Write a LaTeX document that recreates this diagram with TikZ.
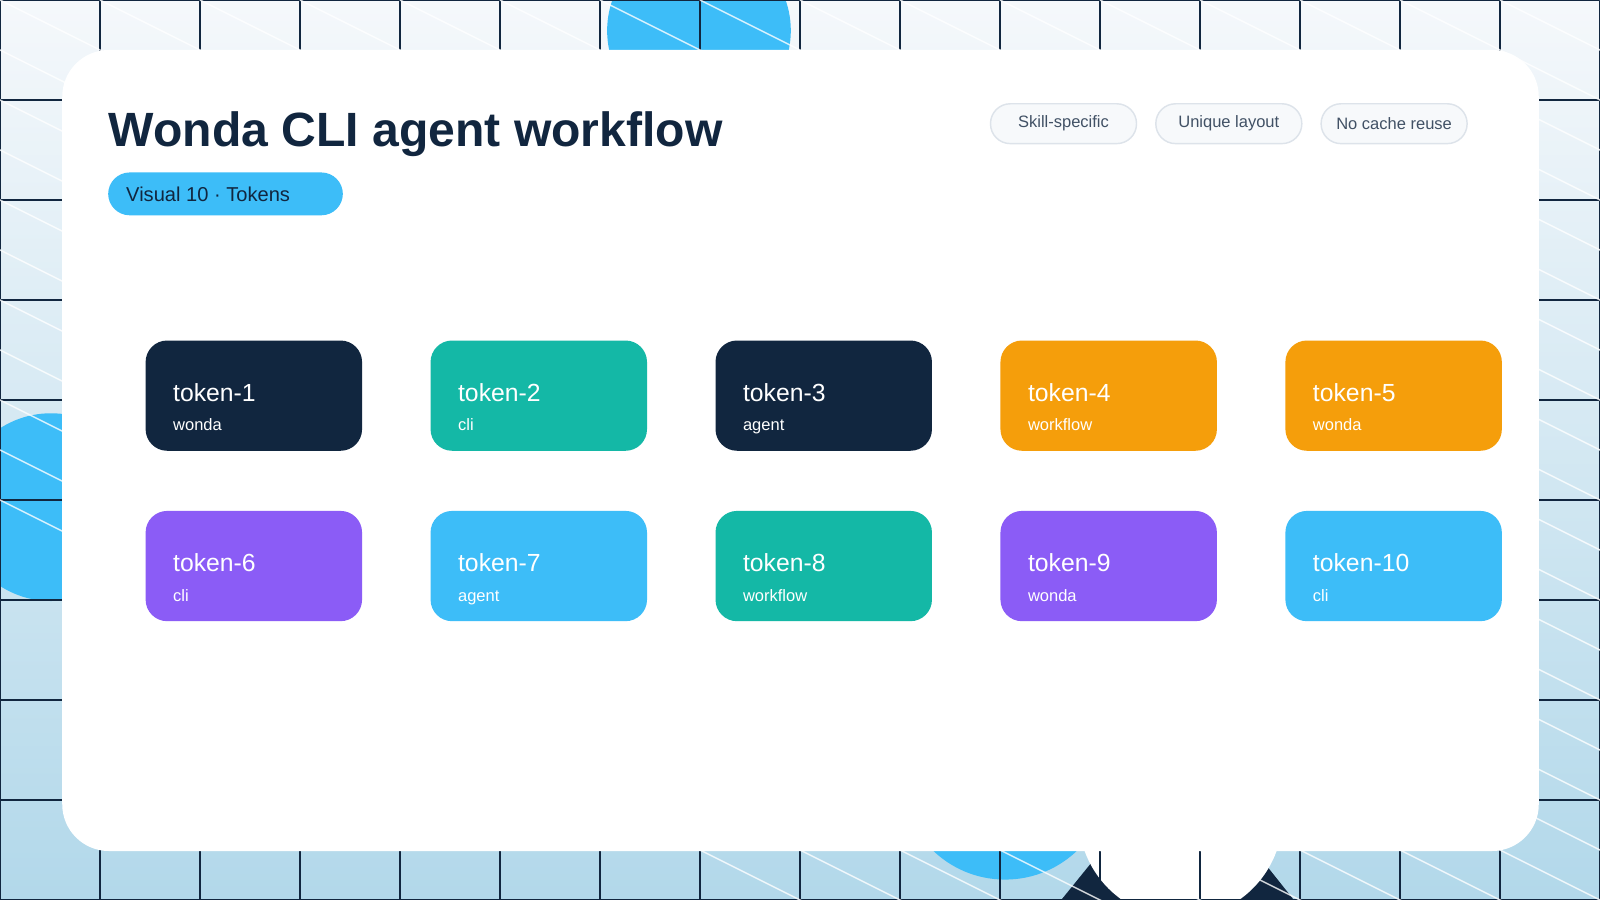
\documentclass[tikz,border=0pt]{standalone}
\usepackage{fontspec}
\setmainfont{Liberation Sans}
\usetikzlibrary{calc}
\definecolor{navy}{HTML}{11263F}
\definecolor{teal}{HTML}{14B8A6}
\definecolor{amber}{HTML}{F59E0B}
\definecolor{violet}{HTML}{8B5CF6}
\definecolor{sky}{HTML}{3DBDF8}
\definecolor{bgtop}{HTML}{F5F8FB}
\definecolor{bgbot}{HTML}{B2D8EA}
\definecolor{tagfill}{HTML}{F7F9FB}
\definecolor{tagline}{HTML}{DDE3EA}
\begin{document}
\begin{tikzpicture}[
        x=0.01cm, y=-0.01cm,
        font=\fontsize{5pt}{6pt}\selectfont
    ]
    \tikzset{
        card/.style = {rectangle, rounded corners=6pt, minimum width=2.12cm, minimum height=1.08cm, anchor=north west, inner sep=0pt},
        tag/.style = {rectangle, rounded corners=5.5pt, draw=tagline, fill=tagfill, minimum width=1.43cm, minimum height=0.39cm, anchor=north west, inner sep=0pt, text=navy!80, font=\fontsize{4.6pt}{5pt}\selectfont},
        big/.style = {anchor=base west, text=white, inner sep=0pt, font=\fontsize{6.9pt}{8pt}\selectfont},
        small/.style = {anchor=base west, text=white, inner sep=0pt, font=\fontsize{4.6pt}{5pt}\selectfont},
    }
    % background
    \shade[top color=bgtop, bottom color=bgbot] (0,0) rectangle (1568,882);
    \useasboundingbox (0,0) rectangle (1568,882);
    \fill[sky] (685,30) circle (90);
    \fill[sky] (50,497) circle (92);
    \fill[sky] (985,760) circle (102);
    \fill[navy] (1155,740) -- (1040,882) -- (1268,882) -- cycle;
    \fill[white] (1157,800) circle (100);
    \foreach \i in {0,...,16}
        \draw[navy, line width=0.3pt] (\i*98,0) -- (\i*98,882);
    \foreach \j in {0,...,9}
        \draw[navy, line width=0.3pt] (0,\j*98) -- (1568,\j*98);
    \begin{scope}
        \clip (0,0) rectangle (1568,882);
        \foreach \k in {-10,...,16}
            \draw[white, line width=0.4pt, opacity=0.8] (\k*98,0) -- ++(1800,900);
    \end{scope}
    % main panel
    \fill[white] (61,49) [rounded corners=13pt] rectangle (1508,834);
    \node[anchor=base west, inner sep=0pt, text=navy, font=\fontsize{13.4pt}{15pt}\selectfont\bfseries] (title) at (106,144) {Wonda CLI agent workflow};
    \fill[sky, rounded corners=6pt] (106,169) rectangle (336,211);
    \node[anchor=base west, inner sep=0pt, text=navy, font=\fontsize{5.6pt}{6pt}\selectfont] (badge) at (123,197) {Visual 10 · Tokens};
    \node[tag] (t1) at (970,101) {Skill-specific};
    \node[tag] (t2) at (1132,101) {Unique layout};
    \node[tag] (t3) at (1294,101) {No cache reuse};
    % tokens
    \foreach \n/\c/\w/\col/\row in {1/navy/wonda/0/0, 2/teal/cli/1/0, 3/navy/agent/2/0, 4/amber/workflow/3/0, 5/amber/wonda/4/0,
                                  6/violet/cli/0/1, 7/sky/agent/1/1, 8/teal/workflow/2/1, 9/violet/wonda/3/1, 10/sky/cli/4/1} {
        \node[card, fill=\c] (k\n) at (142+\col*279.25, 333+\row*167) {};
        \node[big] at ($(k\n.north west)+(27,60)$) {token-\n};
        \node[small] at ($(k\n.north west)+(27,89)$) {\w};
    }
\end{tikzpicture}
\end{document}
